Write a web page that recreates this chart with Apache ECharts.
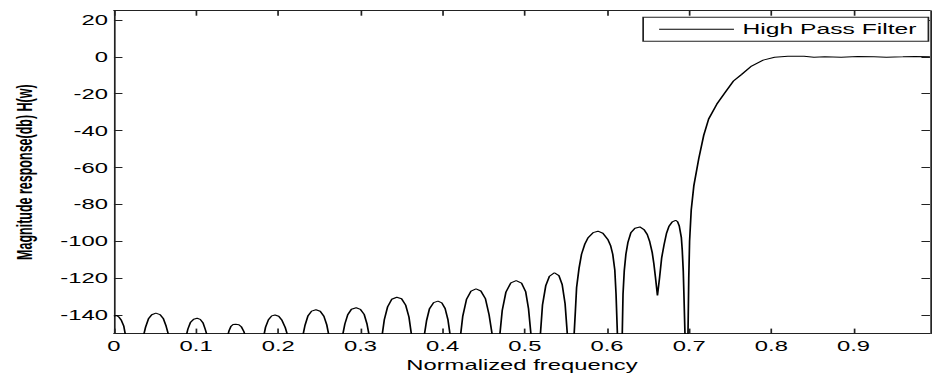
<!DOCTYPE html>
<html>
<head>
<meta charset="utf-8">
<script src="https://cdn.jsdelivr.net/npm/echarts@6/dist/echarts.min.js"></script>
<style>
  html, body { margin: 0; padding: 0; background: #fff; overflow: hidden; }
  #wrap { width: 932px; height: 377px; overflow: hidden; }
  #chart { width: 548px; height: 377px; transform: scaleX(1.7007); transform-origin: 0 0; }
</style>
</head>
<body>
<div id="wrap"><div id="chart"></div></div>
<script>
// ---- data ----
const seriesName = 'High Pass Filter';
const xAxisTitle = 'Normalized frequency';
const yAxisTitle = 'Magnitude response(db) H(w)';
const xTickValues = [0, 0.1, 0.2, 0.3, 0.4, 0.5, 0.6, 0.7, 0.8, 0.9];
const yTickValues = [-140, -120, -100, -80, -60, -40, -20, 0, 20];
const xMin = 0, xMax = 0.993;
const yMin = -150, yMax = 25;

const freq = [
  0, 0.003, 0.006, 0.009, 0.012, 0.0145, 0.025,
  0.0355, 0.0385, 0.042, 0.046, 0.051, 0.056, 0.060, 0.0635, 0.0672, 0.077,
  0.0875, 0.090, 0.093, 0.097, 0.1012, 0.105, 0.1085, 0.111, 0.114, 0.126,
  0.138, 0.140, 0.1425, 0.145, 0.1482, 0.152, 0.155, 0.158, 0.1605, 0.171,
  0.182, 0.1845, 0.188, 0.192, 0.196, 0.2005, 0.2045, 0.2085, 0.212, 0.221,
  0.2295, 0.2325, 0.236, 0.2405, 0.2458, 0.251, 0.2555, 0.259, 0.262, 0.270,
  0.2778, 0.281, 0.2845, 0.289, 0.2948, 0.300, 0.3045, 0.308, 0.311, 0.3185,
  0.326, 0.329, 0.333, 0.338, 0.3442, 0.350, 0.355, 0.359, 0.3625, 0.370,
  0.3773, 0.3805, 0.384, 0.389, 0.3943, 0.399, 0.403, 0.4065, 0.4095, 0.4155,
  0.4215, 0.4245, 0.429, 0.4345, 0.4406, 0.4465, 0.452, 0.4565, 0.4608, 0.465,
  0.4693, 0.4725, 0.477, 0.483, 0.4895, 0.496, 0.501, 0.5045, 0.5078, 0.5135,
  0.5187, 0.5215, 0.5255, 0.530, 0.536, 0.5415, 0.5455, 0.549, 0.552, 0.556,
  0.5598, 0.5615, 0.563, 0.566, 0.569, 0.573, 0.577, 0.583, 0.589, 0.595, 0.601, 0.6045, 0.607, 0.6095, 0.611, 0.6128, 0.6158,
  0.6185, 0.6195, 0.621, 0.623, 0.6255, 0.629, 0.634, 0.640, 0.645, 0.649, 0.652, 0.655, 0.657, 0.659, 0.6614,
  0.664, 0.6665, 0.6695, 0.6725, 0.6755, 0.6795, 0.6835, 0.686, 0.688, 0.6905, 0.6916, 0.6928, 0.6936, 0.6950, 0.6967,
  0.6985, 0.6995, 0.7005, 0.7025, 0.7057, 0.7117, 0.7177, 0.7237, 0.7337, 0.7437, 0.7539, 0.7639, 0.7759, 0.790, 0.804,
  0.8201, 0.8398, 0.8518, 0.865, 0.885, 0.905, 0.925, 0.940, 0.960, 0.975, 0.993
];
const magDb = [
  -140.6, -140.1, -141.0, -142.8, -146.0, -152, -175,
  -152, -146.5, -142.0, -139.8, -138.9, -139.7, -141.8, -146.0, -152, -172,
  -152, -147.5, -144.0, -142.2, -141.7, -142.3, -144.3, -147.5, -152, -170,
  -152, -148.5, -146.0, -145.1, -144.9, -145.2, -146.3, -148.8, -152, -168,
  -152, -146.5, -142.5, -140.4, -139.9, -140.6, -142.8, -146.8, -152, -170,
  -152, -145.5, -140.5, -137.8, -137.1, -137.9, -140.6, -145.3, -152, -172,
  -152, -144.8, -139.8, -136.8, -136.0, -136.9, -139.6, -144.9, -152, -172,
  -152, -142.5, -135.5, -131.4, -130.3, -131.1, -134.6, -141.0, -152, -170,
  -152, -142.8, -136.5, -133.2, -132.4, -133.3, -136.4, -142.6, -152, -170,
  -152, -140.5, -131.5, -127.0, -125.8, -126.9, -131.0, -139.8, -152, -168,
  -152, -137.5, -127.5, -122.5, -121.3, -122.6, -127.2, -136.5, -152, -168,
  -152, -134.5, -124.0, -118.9, -117.0, -118.6, -123.5, -133.8, -152, -170,
  -152, -138, -125.0, -114.5, -107.0, -101.5, -98.0, -95.3, -94.5, -95.6, -99.0, -102.5, -107.0, -115.5, -128.5, -152, -175,
  -152, -128.5, -116, -107, -100.5, -95.4, -92.9, -92.2, -93.6, -96.3, -100.2, -106, -112, -119.6, -129.4,
  -119.6, -109.0, -101.7, -95.5, -91.8, -89.4, -88.6, -89.4, -91.8, -98.0, -105.0, -116, -128.5, -152, -185,
  -152, -120, -100, -83, -69.8, -55.1, -42.6, -33.7, -25.6, -19.3, -13.1, -9.5, -5.0, -1.8, -0.2,
  0.3, 0.3, -0.2, 0.1, -0.2, 0.2, 0.1, -0.2, 0.0, 0.2, 0.1
];

// ---- chart ----
const FONT = '"Liberation Sans", Arial, sans-serif';
const axisColor = '#222';
const chart = echarts.init(document.getElementById('chart'), null, { renderer: 'svg' });

const tickStyle = (vals) => ({ show: true, inside: true, length: 5, customValues: vals, lineStyle: { color: axisColor, width: 1 } });

chart.setOption({
  animation: false,
  backgroundColor: '#fff',
  grid: { left: 62.35, right: 1.2, top: 10.7, bottom: 40.3, containLabel: false },
  legend: {
    data: [{ name: seriesName, icon: 'rect' }],
    right: 2.1, top: 17.3,
    padding: [4.5, 7, 4.5, 9.4],
    itemWidth: 44, itemHeight: 1,
    borderColor: axisColor, borderWidth: 1, backgroundColor: '#fff',
    textStyle: { fontFamily: FONT, fontSize: 14.5, color: '#000' }
  },
  xAxis: [
    {
      type: 'value', min: xMin, max: xMax, position: 'bottom',
      name: xAxisTitle, nameLocation: 'middle', nameGap: 19.5,
      nameTextStyle: { fontFamily: FONT, fontSize: 14, color: '#000' },
      axisLine: { show: true, onZero: false, lineStyle: { color: axisColor, width: 1 } },
      axisTick: tickStyle(xTickValues),
      axisLabel: { customValues: xTickValues, margin: 5.5, fontFamily: FONT, fontSize: 14, color: '#000' },
      splitLine: { show: false }
    },
    {
      type: 'value', min: xMin, max: xMax, position: 'top',
      axisLine: { show: true, onZero: false, lineStyle: { color: axisColor, width: 1 } },
      axisTick: tickStyle(xTickValues),
      axisLabel: { show: false },
      splitLine: { show: false }
    }
  ],
  yAxis: [
    {
      type: 'value', min: yMin, max: yMax, position: 'left',
      name: yAxisTitle, nameLocation: 'middle', nameGap: 46,
      nameTextStyle: { fontFamily: FONT, fontSize: 12.5, fontWeight: 'bold', color: '#000' },
      axisLine: { show: true, onZero: false, lineStyle: { color: axisColor, width: 1 } },
      axisTick: tickStyle(yTickValues),
      axisLabel: { customValues: yTickValues, margin: 3.5, fontFamily: FONT, fontSize: 14, color: '#000' },
      splitLine: { show: false }
    },
    {
      type: 'value', min: yMin, max: yMax, position: 'right',
      axisLine: { show: true, onZero: false, lineStyle: { color: axisColor, width: 1 } },
      axisTick: tickStyle(yTickValues),
      axisLabel: { show: false },
      splitLine: { show: false }
    }
  ],
  series: [{
    name: seriesName,
    type: 'line',
    xAxisIndex: 0, yAxisIndex: 0,
    data: freq.map((f, i) => [f, magDb[i]]),
    symbol: 'none', showSymbol: false, smooth: false, clip: true,
    lineStyle: { color: '#000', width: 1 },
    itemStyle: { color: '#000' }
  }]
});
</script>
</body>
</html>
